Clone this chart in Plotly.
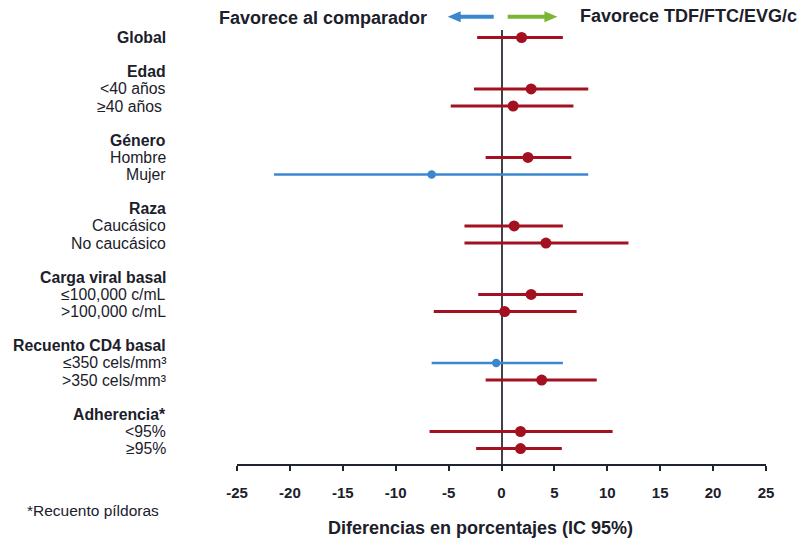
import plotly.graph_objects as go

# Subgroup rows, top to bottom (None = spacer row between groups)
row_labels = [
    "Global", None,
    "Edad", "<40 años", "≥40 años\u00a0", None,
    "Género", "Hombre", "Mujer", None,
    "Raza", "Caucásico", "No caucásico", None,
    "Carga viral basal", "≤100,000 c/mL", ">100,000 c/mL", None,
    "Recuento CD4 basal", "≤350 cels/mm³", ">350 cels/mm³", None,
    "Adherencia*", "<95%", "≥95%",
]
is_header = [
    True, False,
    True, False, False, False,
    True, False, False, False,
    True, False, False, False,
    True, False, False, False,
    True, False, False, False,
    True, False, False,
]
# Difference in percentages with 95% CI (None where a row has no estimate)
estimate = [
    1.9, None,
    None, 2.8, 1.1, None,
    None, 2.5, -6.6, None,
    None, 1.2, 4.2, None,
    None, 2.8, 0.3, None,
    None, -0.5, 3.8, None,
    None, 1.8, 1.8,
]
ci_low = [
    -2.3, None,
    None, -2.6, -4.8, None,
    None, -1.5, -21.5, None,
    None, -3.5, -3.5, None,
    None, -2.2, -6.4, None,
    None, -6.6, -1.5, None,
    None, -6.8, -2.4,
]
ci_high = [
    5.8, None,
    None, 8.2, 6.8, None,
    None, 6.6, 8.2, None,
    None, 5.8, 12.0, None,
    None, 7.7, 7.1, None,
    None, 5.8, 9.0, None,
    None, 10.5, 5.7,
]
tick_values = [-25, -20, -15, -10, -5, 0, 5, 10, 15, 20, 25]
tick_labels = ["-25", "-20", "-15", "-10", "-5", "0", "5", "10", "15", "20", "25"]

RED = "#A3101F"
BLUE = "#3A87D0"
GREEN = "#7BB536"
TEXT = "#1b202b"
FONT = "Liberation Sans, Arial, sans-serif"

fig = go.Figure()

def add_series(favours_comparator, color, size, thickness):
    ys, xs, plus, minus = [], [], [], []
    for i, est in enumerate(estimate):
        if est is None or (est < 0) != favours_comparator:
            continue
        ys.append(i)
        xs.append(est)
        plus.append(ci_high[i] - est)
        minus.append(est - ci_low[i])
    fig.add_trace(go.Scatter(
        x=xs, y=ys, mode="markers",
        marker=dict(color=color, size=size, line=dict(width=0)),
        error_x=dict(type="data", symmetric=False, array=plus, arrayminus=minus,
                     color=color, thickness=thickness, width=0),
        showlegend=False, hoverinfo="skip",
    ))

add_series(False, RED, 11, 3)
add_series(True, BLUE, 8.5, 2.5)

# Row labels on the left
for i, lab in enumerate(row_labels):
    if lab is None:
        continue
    fig.add_annotation(
        x=-0.1304, xref="paper", xanchor="right",
        y=i, yref="y", yanchor="middle",
        text=f"<b>{lab}</b>" if is_header[i] else lab,
        showarrow=False, align="right",
        font=dict(family=FONT, size=15.8, color=TEXT),
    )

# Direction headings
fig.add_annotation(x=0.363, xref="paper", xanchor="right", y=1.0283, yref="paper",
                   yanchor="middle", text="<b>Favorece al comparador</b>", showarrow=False,
                   font=dict(family=FONT, size=18, color=TEXT))
fig.add_annotation(x=0.6446, xref="paper", xanchor="left", y=1.0329, yref="paper",
                   yanchor="middle", text="<b>Favorece TDF/FTC/EVG/c</b>", showarrow=False,
                   font=dict(family=FONT, size=18, color=TEXT))

# Axis title and footnote
fig.add_annotation(x=0.4612, xref="paper", xanchor="center", y=-0.1468, yref="paper",
                   yanchor="middle", text="<b>Diferencias en porcentajes (IC 95%)</b>",
                   showarrow=False, font=dict(family=FONT, size=18, color=TEXT))
fig.add_annotation(x=-0.4013, xref="paper", xanchor="left", y=-0.106, yref="paper",
                   yanchor="middle", text="*Recuento píldoras", showarrow=False,
                   font=dict(family=FONT, size=15.5, color=TEXT))

# Direction arrows either side of the zero line
arrow_y = 1.0306
fig.add_shape(type="path", xref="paper", yref="paper", xsizemode="pixel", ysizemode="pixel",
              xanchor=0.5, yanchor=arrow_y,
              path="M-53.8,0 L-40.8,5.5 L-40.8,2 L-7.8,2 L-7.8,-2 L-40.8,-2 L-40.8,-5.5 Z",
              fillcolor=BLUE, line=dict(width=0))
fig.add_shape(type="path", xref="paper", yref="paper", xsizemode="pixel", ysizemode="pixel",
              xanchor=0.5, yanchor=arrow_y,
              path="M55.9,0 L42.9,5.5 L42.9,2 L6.2,2 L6.2,-2 L42.9,-2 L42.9,-5.5 Z",
              fillcolor=GREEN, line=dict(width=0))

fig.update_xaxes(
    range=[-25, 25], tickvals=tick_values, ticktext=tick_labels,
    showgrid=False, zeroline=True, zerolinecolor="#3d424e", zerolinewidth=1.5,
    showline=True, linecolor="#1f2430", linewidth=2,
    ticks="outside", ticklen=5, tickwidth=2, tickcolor="#1f2430",
    ticklabelstandoff=9,
    tickfont=dict(family=FONT, size=15, color=TEXT, weight="bold"),
)
fig.update_yaxes(visible=False, range=[24.898, -0.437])

fig.update_layout(
    width=805, height=542, autosize=False,
    margin=dict(l=237, r=39, t=30, b=78, pad=0),
    paper_bgcolor="white", plot_bgcolor="white",
    showlegend=False,
)

fig.write_html("out.html")
